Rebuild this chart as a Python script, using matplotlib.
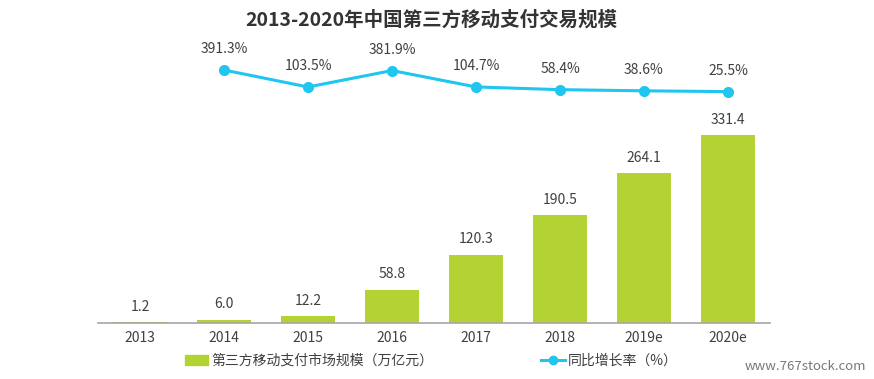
import matplotlib
matplotlib.use('Agg')
import matplotlib.pyplot as plt
from matplotlib.lines import Line2D
from matplotlib.patches import Patch

plt.rcParams['font.family'] = ['Noto Sans CJK SC', 'DejaVu Sans']

years = ['2013', '2014', '2015', '2016', '2017', '2018', '2019e', '2020e']
scale = [1.2, 6.0, 12.2, 58.8, 120.3, 190.5, 264.1, 331.4]
growth_years = years[1:]
growth = [391.3, 103.5, 381.9, 104.7, 58.4, 38.6, 25.5]

green = '#b3d334'
cyan = '#1fc6ef'
txt = '#404040'

W, H = 874, 379
fig = plt.figure(figsize=(W / 100, H / 100), dpi=100)
# axes box in pixels: x 98..770, y 50..323 (from top)
ax = fig.add_axes([98 / W, (H - 323) / H, 672 / W, 273 / H])
x = list(range(len(years)))

ax.bar(x, scale, width=0.64, color=green, zorder=2)
ax.set_xlim(-0.5, len(years) - 0.5)
ax.set_ylim(0, 273 / 0.567)
for i, v in enumerate(scale):
    ax.annotate(f'{v:.1f}', (i, v), xytext=(0, 6), textcoords='offset points',
                ha='center', va='bottom', fontsize=10, color=txt)

ax.set_xticks(x)
ax.set_xticklabels(years, fontsize=10, color=txt)
ax.tick_params(axis='x', length=0, pad=6)
ax.set_yticks([])
for s in ['top', 'right', 'left']:
    ax.spines[s].set_visible(False)
ax.spines['bottom'].set_color('#a6a6a6')
ax.spines['bottom'].set_linewidth(1.2)

# secondary axis for growth rate, squeezed to the top
ax2 = ax.twinx()
ppu = 17 / (391.3 - 103.5)
zero_px = 70 + 391.3 * ppu
ax2.set_ylim(-(323 - zero_px) / ppu, (zero_px - 50) / ppu)
gx = x[1:]
ax2.plot(gx, growth, color=cyan, lw=2.2, marker='o', ms=7, zorder=3)
for i, v in zip(gx, growth):
    ax2.annotate(f'{v:.1f}%', (i, v), xytext=(0, 10), textcoords='offset points',
                 ha='center', va='bottom', fontsize=10, color=txt)
ax2.set_yticks([])
for s in ax2.spines.values():
    s.set_visible(False)

fig.text(431 / W, 1 - 20 / H, '2013-2020年中国第三方移动支付交易规模',
         ha='center', va='center', fontsize=14, fontweight='bold', color='#333333')

handles = [Patch(color=green),
           Line2D([], [], color=cyan, lw=2.2, marker='o', ms=6)]
labels = ['第三方移动支付市场规模（万亿元）', '同比增长率（%）']
fig.legend(handles, labels, loc='center left', bbox_to_anchor=(172 / W, 1 - 361 / H),
           ncol=2, frameon=False, fontsize=10, columnspacing=7.8,
           handlelength=1.7, handletextpad=0.2, labelcolor=txt)

fig.text(866 / W, 1 - 366 / H, 'www.767stock.com', ha='right', va='center',
         fontsize=9.5, color='#777777')

fig.savefig('out.png', dpi=100)
